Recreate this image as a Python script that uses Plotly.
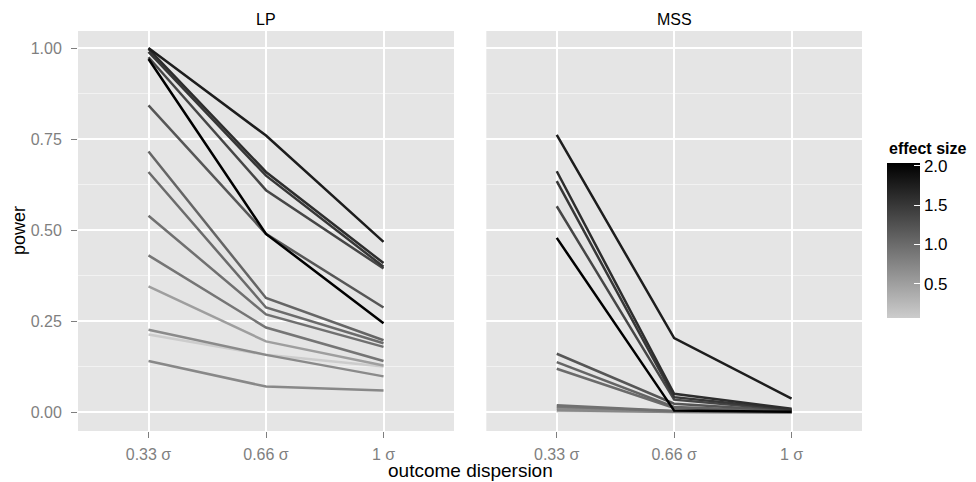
import plotly.graph_objects as go

# ---- data ----
dispersion = ["0.33 σ", "0.66 σ", "1 σ"]
effect_sizes = [2.03, 1.75, 1.6, 1.5, 1.35, 1.2, 1.05, 1.0, 0.95, 0.9, 0.72, 0.7, 0.5, 0.06]

lp_power = [
    [0.970, 0.490, 0.245],
    [1.000, 0.760, 0.468],
    [0.998, 0.660, 0.410],
    [0.990, 0.650, 0.400],
    [0.975, 0.610, 0.395],
    [0.843, 0.490, 0.288],
    [0.716, 0.314, 0.198],
    [0.660, 0.288, 0.190],
    [0.540, 0.269, 0.180],
    [0.431, 0.233, 0.141],
    [0.141, 0.071, 0.060],
    [0.227, 0.158, 0.099],
    [0.346, 0.195, 0.129],
    [0.214, 0.158, 0.126],
]

mss_power = [
    [0.479, 0.005, 0.002],
    [0.762, 0.204, 0.038],
    [0.662, 0.051, 0.010],
    [0.635, 0.042, 0.008],
    [0.566, 0.035, 0.006],
    [0.161, 0.024, 0.004],
    [0.138, 0.015, 0.003],
    [0.120, 0.012, 0.002],
    [0.020, 0.004, 0.001],
    [0.016, 0.003, 0.001],
    [0.006, 0.001, 0.000],
    [0.012, 0.002, 0.001],
    [0.010, 0.002, 0.000],
    [0.003, 0.001, 0.000],
]

facets = ["LP", "MSS"]
y_ticks = [0.0, 0.25, 0.5, 0.75, 1.0]
y_ticktext = ["0.00", "0.25", "0.50", "0.75", "1.00"]
cbar_ticks = [0.5, 1.0, 1.5, 2.0]

# ---- style ----
LOW, HIGH = 204, 0  # grey80 -> black
CMIN, CMAX = min(effect_sizes), max(effect_sizes)
FONT = "Liberation Sans, Arial, sans-serif"
TICK_GREY = "#7F7F7F"


def grey_for(v):
    t = (v - CMIN) / (CMAX - CMIN)
    g = round(LOW + (HIGH - LOW) * t)
    return f"rgb({g},{g},{g})"


fig = go.Figure()

order = sorted(range(len(effect_sizes)), key=lambda i: effect_sizes[i])
for panel, data in enumerate([lp_power, mss_power]):
    xa = "x" if panel == 0 else "x2"
    ya = "y" if panel == 0 else "y2"
    for i in order:
        fig.add_trace(go.Scatter(
            x=dispersion, y=data[i], mode="lines",
            line=dict(color=grey_for(effect_sizes[i]), width=2.5),
            xaxis=xa, yaxis=ya, showlegend=False, hoverinfo="skip",
        ))

# colorbar carrier
fig.add_trace(go.Scatter(
    x=[None], y=[None], mode="markers", xaxis="x", yaxis="y",
    showlegend=False,
    marker=dict(
        color=[CMIN], cmin=CMIN, cmax=CMAX, size=0,
        colorscale=[[0, "rgb(204,204,204)"], [1, "rgb(0,0,0)"]],
        showscale=True,
        colorbar=dict(
            x=1.0315, xanchor="left", xref="paper", xpad=0, ypad=0,
            y=(431 - 240.8) / 400, yanchor="middle",
            lenmode="pixels", len=155, thickness=33,
            tickvals=cbar_ticks, ticktext=[f"{v:.1f}" for v in cbar_ticks],
            ticks="inside", ticklen=6, tickcolor="white", tickwidth=1.2,
            tickfont=dict(size=17, color="black", family=FONT),
            outlinewidth=0,
        ),
    ),
))

xaxis_common = dict(
    type="category", categoryorder="array", categoryarray=dispersion,
    range=[-0.6, 2.6], showgrid=True, gridcolor="white", gridwidth=1.6,
    ticks="outside", ticklen=6, tickcolor=TICK_GREY, tickwidth=1.2,
    ticklabelstandoff=3,
    tickfont=dict(size=16, color=TICK_GREY, family=FONT),
    zeroline=False, showline=False, fixedrange=True,
)
yaxis_common = dict(
    range=[-0.051, 1.047], tickvals=y_ticks, ticktext=y_ticktext,
    showgrid=True, gridcolor="white", gridwidth=1.6,
    minor=dict(dtick=0.125, tick0=0, showgrid=True, gridcolor="#F2F2F2", gridwidth=0.8),
    zeroline=False, showline=False, fixedrange=True,
)

# page body adds an 8px offset, so margins are shifted by 8px
fig.update_layout(
    width=976, height=482,
    margin=dict(l=70, r=122, t=23, b=59, autoexpand=False),
    paper_bgcolor="white", plot_bgcolor="#E5E5E5",
    font=dict(family=FONT),
    xaxis=dict(domain=[0, 0.4796], anchor="y", **xaxis_common),
    xaxis2=dict(domain=[0.5208, 1.0], anchor="y2", **xaxis_common),
    yaxis=dict(anchor="x", ticks="outside", ticklen=6, tickcolor=TICK_GREY, tickwidth=1.2,
               ticklabelstandoff=6,
               tickfont=dict(size=16, color=TICK_GREY, family=FONT), **yaxis_common),
    yaxis2=dict(anchor="x2", matches="y", showticklabels=False, ticks="", **yaxis_common),
    annotations=[
        dict(text=facets[0], x=0.2398, y=1.0, xref="paper", yref="paper",
             xanchor="center", yanchor="bottom", yshift=1, showarrow=False,
             font=dict(size=16, color="black", family=FONT)),
        dict(text=facets[1], x=0.7604, y=1.0, xref="paper", yref="paper",
             xanchor="center", yanchor="bottom", yshift=1, showarrow=False,
             font=dict(size=16, color="black", family=FONT)),
        dict(text="outcome dispersion", x=0.5, y=0, xref="paper", yref="paper",
             xanchor="center", yanchor="top", yshift=-27, showarrow=False,
             font=dict(size=19, color="black", family=FONT)),
        dict(text="power", x=0, y=0.5, xref="paper", yref="paper",
             xanchor="right", xshift=-47, textangle=-90, showarrow=False,
             font=dict(size=18, color="black", family=FONT)),
        dict(text="<b>effect size</b>", x=(887 - 78) / 784, y=(431 - 148) / 400,
             xref="paper", yref="paper", xanchor="left", yanchor="middle",
             showarrow=False, font=dict(size=16, color="black", family=FONT)),
    ],
)

fig.write_html("out.html")
